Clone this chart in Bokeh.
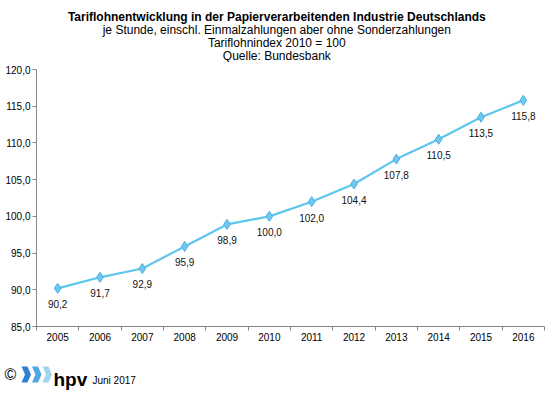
from bokeh.plotting import figure
from bokeh.layouts import column, row
from bokeh.models import Range1d, FixedTicker, ColumnDataSource, LabelSet
from bokeh.core.properties import value
from bokeh.embed import file_html
from bokeh.resources import INLINE

years = ["2005", "2006", "2007", "2008", "2009", "2010", "2011", "2012",
         "2013", "2014", "2015", "2016"]
index_values = [90.2, 91.7, 92.9, 95.9, 98.9, 100.0, 102.0, 104.4, 107.8,
                110.5, 113.5, 115.8]
y_ticks = [85, 90, 95, 100, 105, 110, 115, 120]
title_lines = [
    "Tariflohnentwicklung  in der Papierverarbeitenden Industrie Deutschlands",
    "je Stunde, einschl. Einmalzahlungen  aber ohne Sonderzahlungen",
    "Tariflohnindex  2010 = 100",
    "Quelle:  Bundesbank",
]
footer_date = "Juni 2017"

FONT = "Liberation Sans"
LINE = "#5cc6ee"
W = 555
TH, MH, FH = 62, 288, 45


def blank(h):
    f = figure(width=W, height=h, output_backend="svg", toolbar_location=None,
               x_range=Range1d(0, W), y_range=Range1d(h, 0),
               min_border=0, min_border_left=0, min_border_right=0,
               min_border_top=0, min_border_bottom=0,
               x_axis_type=None, y_axis_type=None)
    f.outline_line_color = None
    f.grid.grid_line_color = None
    f.title.visible = False
    return f


# ---- title block
t = blank(TH)
t.text(x=[278] * len(title_lines), y=[16 + 13 * i for i in range(len(title_lines))],
       text=title_lines, text_align="center", text_baseline="middle",
       text_font=value(FONT), text_font_size="12px", text_color="#000000",
       text_font_style=["bold"] + ["normal"] * (len(title_lines) - 1))

# ---- main chart
xs = [i + 0.5 for i in range(len(years))]
src = ColumnDataSource(dict(
    x=xs, y=index_values,
    lab=[f"{v:.1f}".replace(".", ",") for v in index_values],
))

p = figure(width=W, height=MH, output_backend="svg", toolbar_location=None,
           x_range=Range1d(0, len(years)), y_range=Range1d(85, 120),
           min_border_left=36, min_border_right=11, min_border_bottom=24,
           min_border_top=7)
p.outline_line_color = None
p.grid.grid_line_color = None
p.title.visible = False

p.line("x", "y", source=src, line_color=LINE, line_width=2.2)
p.scatter("x", "y", source=src, marker="diamond", size=10,
          fill_color="#6ec8f0", line_color="#49aee2", line_width=1)
p.add_layout(LabelSet(x="x", y="y", text="lab", source=src, y_offset=-12,
                      text_align="center", text_baseline="top",
                      text_font=value(FONT), text_font_size=value("10px"),
                      text_color="#111111"))

xa = p.xaxis[0]
xa.ticker = FixedTicker(ticks=xs, minor_ticks=list(range(len(years) + 1)))
xa.major_label_overrides = {x: y for x, y in zip(xs, years)}
xa.major_tick_line_color = None
xa.major_tick_out = 0
xa.major_tick_in = 0
xa.minor_tick_line_color = "#868686"
xa.minor_tick_out = 4
xa.minor_tick_in = 0
xa.axis_line_color = "#868686"
xa.major_label_text_font = FONT
xa.major_label_text_font_size = "10px"
xa.major_label_text_color = "#000000"
xa.major_label_standoff = 2

ya = p.yaxis[0]
ya.ticker = FixedTicker(ticks=y_ticks)
ya.major_label_overrides = {v: f"{v:.1f}".replace(".", ",") for v in y_ticks}
ya.major_tick_out = 4
ya.major_tick_in = 0
ya.major_tick_line_color = "#868686"
ya.axis_line_color = "#868686"
ya.minor_tick_line_color = None
ya.major_label_text_font = FONT
ya.major_label_text_font_size = "10px"
ya.major_label_text_color = "#000000"
ya.major_label_standoff = 2

# ---- footer: copyright, logo, date
f = blank(FH)
f.text(x=[4], y=[24], text=["©"], text_baseline="middle",
       text_font=value(FONT), text_font_size="16px", text_color="#000000")
chev_colors = ["#2f80d2", "#4fa6e4", "#a2d4f0"]
cx, cy = [], []
for k in range(len(chev_colors)):
    x0 = 21 + k * 10.5
    y0, h = 16, 16
    cx.append([x0, x0 + 6, x0 + 9.5, x0 + 6, x0, x0 + 3.5])
    cy.append([y0, y0, y0 + h / 2, y0 + h, y0 + h, y0 + h / 2])
f.patches(cx, cy, fill_color=chev_colors, line_color=None)
f.text(x=[53], y=[29], text=["hpv"], text_baseline="alphabetic",
       text_font=value(FONT), text_font_size="19px", text_font_style="bold",
       text_color="#000000")
f.text(x=[92], y=[30], text=[footer_date], text_baseline="alphabetic",
       text_font=value(FONT), text_font_size="10px", text_color="#000000")

open("out.html", "w").write(file_html(column(row(t), p, row(f), spacing=0), INLINE))
